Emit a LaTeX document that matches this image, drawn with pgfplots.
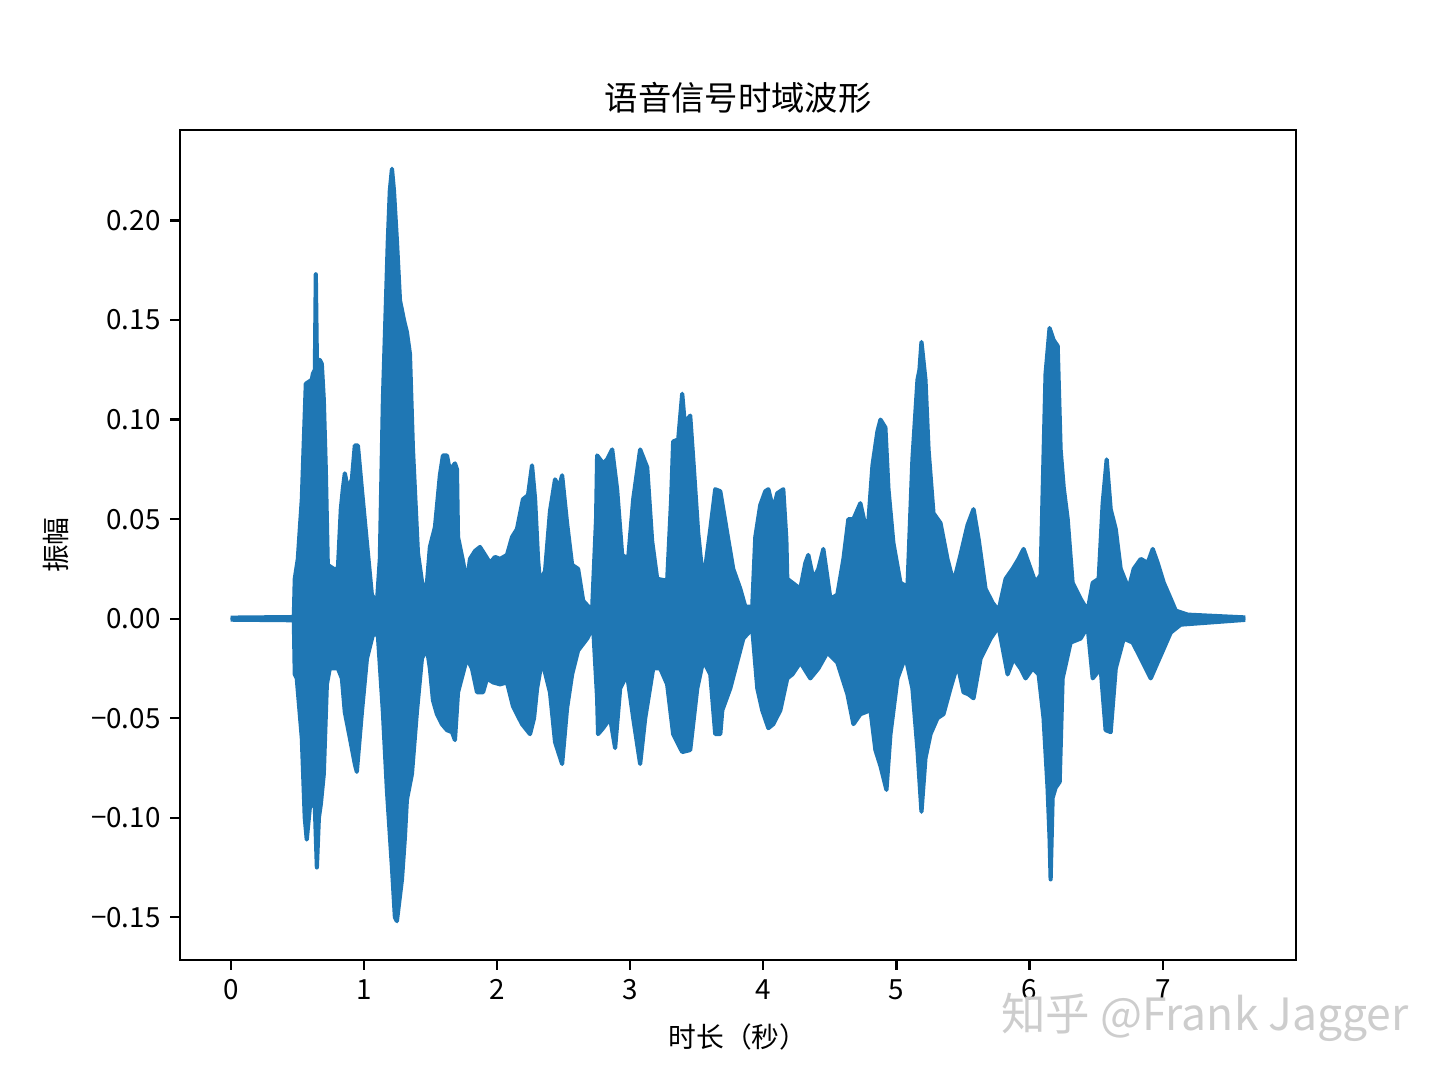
\documentclass[border=0pt]{standalone}
\usepackage{fontspec}
\setmainfont{Noto Sans CJK SC}
\usepackage{pgfplots}
\usepackage{pgfplotstable}
\pgfplotsset{compat=1.18}
\usepgfplotslibrary{fillbetween}
\definecolor{c0}{HTML}{1F77B4}

\pgfplotstableread{
t v
0 0.0005
0.474 0.0008
0.481 0.020
0.504 0.030
0.534 0.060
0.564 0.118
0.609 0.120
0.617 0.123
0.632 0.125
0.639 0.173
0.647 0.130
0.669 0.130
0.684 0.128
0.699 0.110
0.714 0.075
0.729 0.027
0.774 0.025
0.805 0.025
0.827 0.055
0.842 0.065
0.857 0.073
0.880 0.065
0.910 0.070
0.932 0.087
0.955 0.087
0.985 0.065
1.023 0.038
1.060 0.012
1.098 0.008
1.120 0.030
1.143 0.110
1.180 0.190
1.195 0.215
1.211 0.226
1.226 0.215
1.248 0.190
1.271 0.160
1.301 0.150
1.323 0.144
1.346 0.133
1.368 0.086
1.406 0.033
1.444 0.015
1.474 0.018
1.496 0.036
1.534 0.046
1.571 0.072
1.594 0.082
1.624 0.082
1.647 0.074
1.662 0.076
1.684 0.078
1.699 0.075
1.707 0.041
1.744 0.029
1.774 0.018
1.797 0.030
1.835 0.034
1.872 0.036
1.910 0.032
1.947 0.028
1.985 0.031
2.023 0.030
2.075 0.032
2.113 0.041
2.150 0.045
2.195 0.060
2.233 0.062
2.263 0.077
2.286 0.060
2.308 0.030
2.323 0.018
2.361 0.024
2.398 0.054
2.436 0.070
2.466 0.066
2.489 0.072
2.526 0.048
2.564 0.027
2.609 0.025
2.647 0.009
2.714 0.004
2.744 0.050
2.752 0.082
2.797 0.078
2.827 0.080
2.865 0.085
2.902 0.065
2.940 0.032
2.985 0.030
3.023 0.060
3.075 0.085
3.128 0.076
3.165 0.039
3.203 0.020
3.278 0.019
3.308 0.060
3.323 0.089
3.361 0.090
3.391 0.113
3.414 0.095
3.429 0.100
3.451 0.102
3.474 0.080
3.511 0.043
3.549 0.018
3.602 0.045
3.639 0.065
3.677 0.064
3.729 0.043
3.774 0.025
3.827 0.015
3.865 0.006
3.917 0.006
3.940 0.041
3.977 0.057
4.015 0.064
4.038 0.065
4.075 0.055
4.105 0.063
4.150 0.065
4.173 0.040
4.180 0.020
4.278 0.015
4.316 0.028
4.338 0.032
4.376 0.020
4.414 0.025
4.451 0.035
4.504 0.010
4.556 0.012
4.602 0.030
4.639 0.050
4.677 0.050
4.729 0.058
4.782 0.042
4.820 0.077
4.857 0.094
4.880 0.100
4.917 0.096
4.940 0.065
4.977 0.038
5.030 0.018
5.083 0.016
5.120 0.080
5.158 0.120
5.173 0.125
5.188 0.139
5.218 0.120
5.241 0.085
5.278 0.053
5.331 0.048
5.383 0.030
5.429 0.018
5.481 0.032
5.534 0.047
5.579 0.055
5.617 0.040
5.669 0.015
5.722 0.008
5.767 0.004
5.820 0.020
5.872 0.025
5.917 0.030
5.955 0.035
6.008 0.025
6.045 0.018
6.083 0.022
6.120 0.123
6.150 0.146
6.180 0.140
6.211 0.137
6.233 0.085
6.256 0.066
6.286 0.050
6.323 0.018
6.383 0.010
6.436 0.004
6.474 0.018
6.519 0.020
6.549 0.058
6.579 0.080
6.609 0.055
6.647 0.045
6.684 0.025
6.744 0.015
6.782 0.025
6.835 0.030
6.887 0.028
6.925 0.035
6.962 0.028
7.008 0.018
7.060 0.010
7.098 0.004
7.188 0.002
7.620 0.0006
}\upenv

\pgfplotstableread{
t v
0 -0.0005
0.474 -0.0008
0.481 -0.028
0.496 -0.030
0.534 -0.060
0.556 -0.100
0.571 -0.111
0.594 -0.095
0.609 -0.092
0.632 -0.095
0.647 -0.125
0.662 -0.100
0.677 -0.093
0.699 -0.078
0.722 -0.033
0.744 -0.025
0.805 -0.025
0.835 -0.030
0.857 -0.047
0.895 -0.060
0.932 -0.073
0.947 -0.077
0.985 -0.047
1.023 -0.020
1.068 -0.008
1.105 -0.008
1.143 -0.047
1.173 -0.086
1.211 -0.125
1.233 -0.150
1.248 -0.152
1.286 -0.131
1.308 -0.110
1.323 -0.091
1.361 -0.078
1.398 -0.047
1.436 -0.020
1.474 -0.015
1.496 -0.025
1.519 -0.041
1.549 -0.048
1.586 -0.053
1.624 -0.056
1.662 -0.057
1.684 -0.061
1.707 -0.037
1.774 -0.020
1.812 -0.025
1.850 -0.037
1.895 -0.037
1.925 -0.030
1.970 -0.032
2.023 -0.033
2.075 -0.032
2.120 -0.044
2.188 -0.053
2.248 -0.058
2.278 -0.050
2.301 -0.035
2.338 -0.021
2.398 -0.037
2.436 -0.062
2.489 -0.073
2.526 -0.045
2.564 -0.028
2.609 -0.016
2.677 -0.010
2.722 -0.004
2.752 -0.040
2.759 -0.058
2.797 -0.055
2.850 -0.050
2.887 -0.065
2.925 -0.035
2.977 -0.028
3.023 -0.050
3.075 -0.073
3.113 -0.050
3.173 -0.025
3.226 -0.025
3.278 -0.033
3.323 -0.058
3.391 -0.067
3.451 -0.066
3.504 -0.035
3.549 -0.021
3.602 -0.028
3.639 -0.058
3.677 -0.058
3.692 -0.046
3.752 -0.035
3.850 -0.010
3.917 -0.005
3.955 -0.035
3.992 -0.046
4.038 -0.055
4.075 -0.053
4.128 -0.046
4.180 -0.030
4.218 -0.028
4.278 -0.022
4.353 -0.030
4.414 -0.025
4.481 -0.017
4.556 -0.022
4.632 -0.038
4.677 -0.053
4.729 -0.048
4.805 -0.046
4.842 -0.066
4.880 -0.074
4.925 -0.086
4.955 -0.058
5.008 -0.030
5.068 -0.019
5.120 -0.035
5.158 -0.066
5.188 -0.097
5.218 -0.070
5.256 -0.058
5.308 -0.050
5.353 -0.048
5.406 -0.035
5.459 -0.023
5.504 -0.037
5.541 -0.038
5.579 -0.040
5.632 -0.020
5.707 -0.010
5.767 -0.004
5.835 -0.028
5.880 -0.020
5.932 -0.025
5.970 -0.030
6.023 -0.025
6.068 -0.028
6.105 -0.050
6.135 -0.085
6.150 -0.110
6.158 -0.131
6.173 -0.090
6.195 -0.085
6.226 -0.082
6.248 -0.030
6.308 -0.012
6.383 -0.010
6.436 -0.004
6.474 -0.030
6.534 -0.025
6.571 -0.056
6.609 -0.057
6.647 -0.025
6.707 -0.010
6.774 -0.012
6.835 -0.020
6.910 -0.030
6.962 -0.022
7.008 -0.015
7.060 -0.007
7.135 -0.003
7.620 -0.0006
}\loenv

\begin{document}
\begin{tikzpicture}
\begin{axis}[
  scale only axis,
  width=401.76pt, height=298.8pt,
  xmin=-0.381, xmax=8.001,
  ymin=-0.1715, ymax=0.2455,
  axis line style={line width=0.8pt},
  every tick/.style={black, line width=0.8pt},
  tick align=outside,
  major tick length=3.5pt,
  tick pos=left,
  xtick={0,1,2,3,4,5,6,7},
  xticklabels={0,1,2,3,4,5,6,7},
  ytick={-0.15,-0.1,-0.05,0,0.05,0.1,0.15,0.2},
  yticklabels={−0.15,−0.10,−0.05,0.00,0.05,0.10,0.15,0.20},
  tick label style={font=\fontsize{10}{12}\selectfont},
  title={语音信号时域波形},
  title style={font=\fontsize{12}{14}\selectfont, yshift=-3.6pt},
  xlabel={时长（秒）},
  ylabel={振幅},
  xlabel style={yshift=-1.5pt},
  ylabel style={yshift=1pt},
  label style={font=\fontsize{10}{12}\selectfont},
]
\addplot[name path=up, c0, line width=1.5pt, line join=round, mark=none] table[x=t,y=v]{\upenv};
\addplot[name path=lo, c0, line width=1.5pt, line join=round, mark=none] table[x=t,y=v]{\loenv};
\addplot[c0, draw=none] fill between[of=up and lo];
\end{axis}
\node[text={rgb,255:red,205;green,205;blue,205}, font=\fontsize{16}{18}\selectfont, anchor=center]
  at ([shift={(369pt,-20.5pt)}]current axis.south west) {知乎 @Frank Jagger};
\pgfresetboundingbox
\path[use as bounding box] ([shift={(-64.8pt,-43.2pt)}]current axis.south west) rectangle ([shift={(51.84pt,46.8pt)}]current axis.north east);
\end{tikzpicture}
\end{document}
